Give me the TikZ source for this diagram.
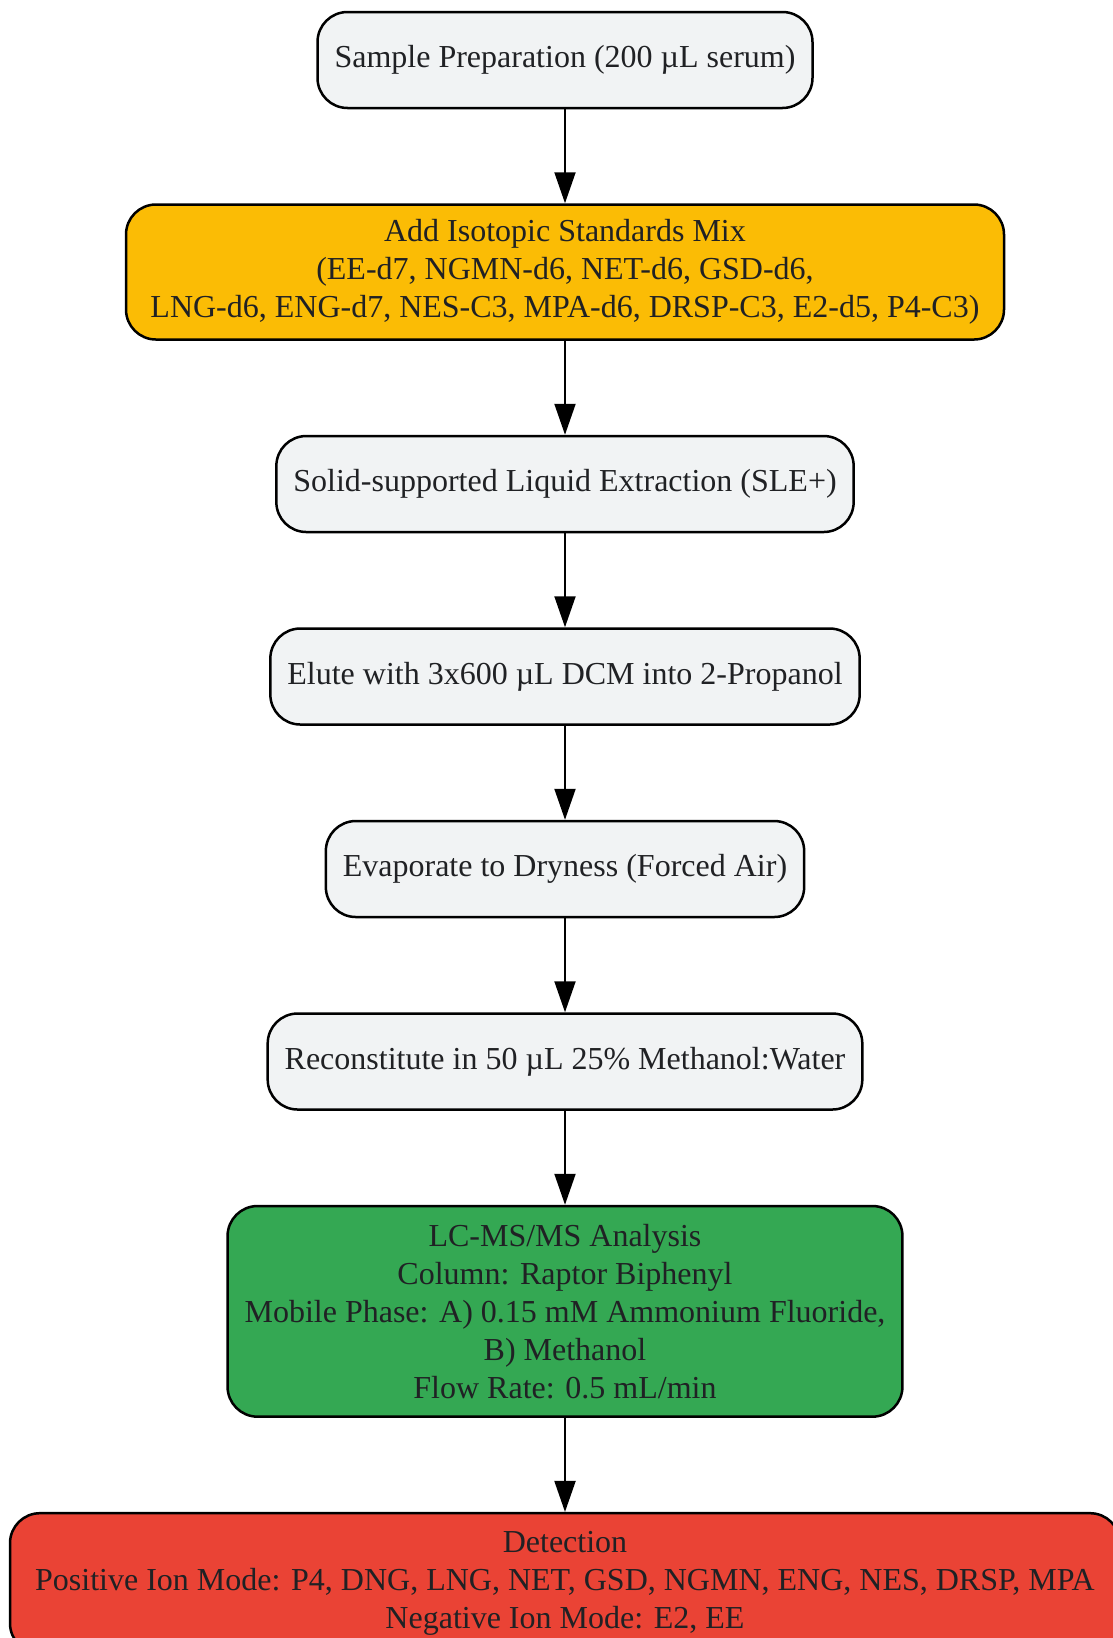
\documentclass[tikz,border=0pt]{standalone}
\usepackage{fontspec}
\setmainfont{Liberation Serif}
\usetikzlibrary{positioning,arrows.meta}
\definecolor{stepgrey}{HTML}{F1F3F4}
\definecolor{stepyellow}{HTML}{FBBC05}
\definecolor{stepgreen}{HTML}{34A853}
\definecolor{stepred}{HTML}{EA4335}
\definecolor{textgrey}{HTML}{202124}

\begin{document}
\begin{tikzpicture}[x=1pt, y=1pt,
	node distance=94pt,
	>={Triangle[length=31pt,width=21pt]},
	nstyle/.style={rectangle, rounded corners=30pt, draw=black, line width=2.5pt,
	fill=stepgrey, text=textgrey, font=\fontsize{32}{38}\selectfont, align=center,
	minimum height=96pt, inner xsep=17pt, inner ysep=15pt}
	]
	\useasboundingbox (0,0) rectangle (1112,-1638);
	\node[nstyle] (1) at (565,-60) {Sample Preparation (200 µL serum)};
	\node[nstyle, fill=stepyellow, minimum width=878pt] (2) [below=of 1]
	{Add Isotopic Standards Mix\\(EE-d7, NGMN-d6, NET-d6, GSD-d6,\\LNG-d6, ENG-d7, NES-C3, MPA-d6, DRSP-C3, E2-d5, P4-C3)};
	\node[nstyle] (3) [below=of 2] {Solid-supported Liquid Extraction (SLE+)};
	\node[nstyle] (4) [below=of 3] {Elute with 3x600 µL DCM into 2-Propanol};
	\node[nstyle] (5) [below=of 4] {Evaporate to Dryness (Forced Air)};
	\node[nstyle] (6) [below=of 5] {Reconstitute in 50 µL 25\% Methanol:Water};
	\node[nstyle, fill=stepgreen, inner ysep=18pt] (7) [below=of 6]
	{LC-MS/MS Analysis\\Column: Raptor Biphenyl\\Mobile Phase: A) 0.15 mM Ammonium Fluoride,\\B) Methanol\\Flow Rate: 0.5 mL/min};
	\node[nstyle, fill=stepred, minimum width=1110pt, inner ysep=18pt] (8) [below=of 7]
	{Detection\\Positive Ion Mode: P4, DNG, LNG, NET, GSD, NGMN, ENG, NES, DRSP, MPA\\Negative Ion Mode: E2, EE};
	
	\draw[->,line width=2pt] (1.south) to (2.north);
	\draw[->,line width=2pt] (2.south) to (3.north);
	\draw[->,line width=2pt] (3.south) to (4.north);
	\draw[->,line width=2pt] (4.south) to (5.north);
	\draw[->,line width=2pt] (5.south) to (6.north);
	\draw[->,line width=2pt] (6.south) to (7.north);
	\draw[->,line width=2pt] (7.south) to (8.north);
\end{tikzpicture}
\end{document}
